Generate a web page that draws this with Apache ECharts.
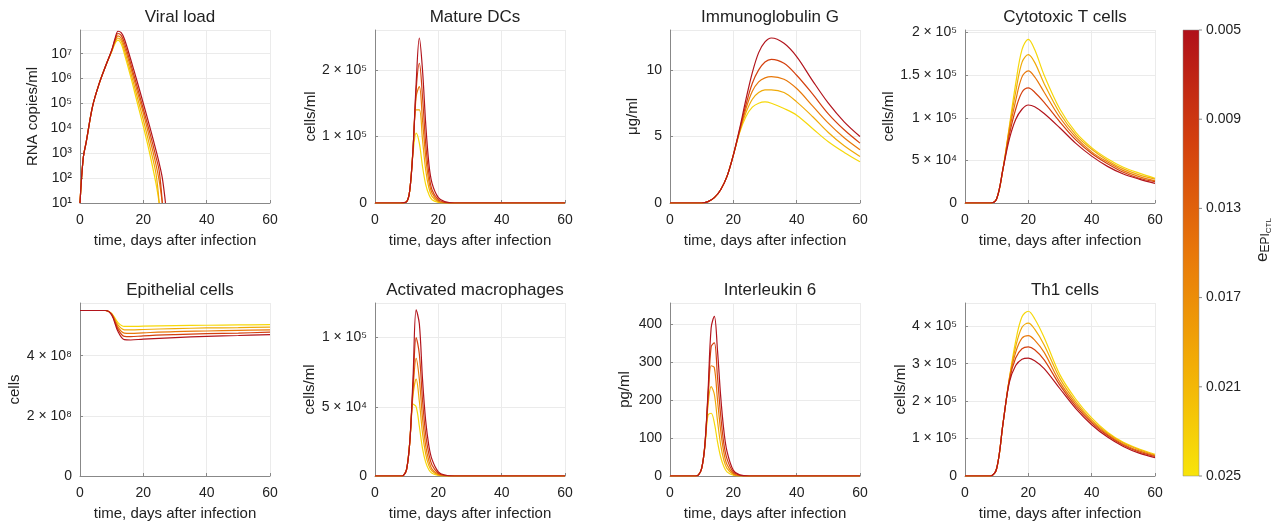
<!DOCTYPE html>
<html>
<head>
<meta charset="utf-8">
<script src="https://cdn.jsdelivr.net/npm/echarts@6/dist/echarts.min.js"></script>
<style>
  html, body { margin: 0; padding: 0; background: #fff; }
  #chart { width: 1280px; height: 527px; }
</style>
</head>
<body>
<div id="chart"></div>
<script>
// curves are ordered from e = 0.025 (yellow) to e = 0.005 (red)
const COLORS = ['#f6d80a', '#f0aa08', '#e8780a', '#d4400e', '#b2141c']
const FONT = "'Liberation Sans', Arial, sans-serif"

const viralDays = [0, 1, 2, 4, 6, 8, 10, 11, 12, 13, 14, 16, 18, 20, 22, 24, 25, 26, 27]
const viral = [
  [10, 600, 3e3, 8e4, 6e5, 3e6, 1.2e7, 2.5e7, 3.5e7, 2.5e7, 1e7, 1.2e6, 1.2e5, 1.2e4, 1e3, 60, 10, null, null],
  [10, 600, 3e3, 8e4, 6e5, 3e6, 1.25e7, 2.8e7, 4.3e7, 3.3e7, 1.4e7, 1.8e6, 2e5, 2.2e4, 2e3, 150, 10, null, null],
  [10, 600, 3e3, 8e4, 6e5, 3e6, 1.3e7, 3.1e7, 5.2e7, 4.2e7, 2e7, 2.8e6, 3.3e5, 4e4, 4e3, 350, 80, 10, null],
  [10, 600, 3e3, 8e4, 6e5, 3e6, 1.35e7, 3.4e7, 6.5e7, 5.5e7, 2.8e7, 4e6, 5e5, 6e4, 7e3, 700, 200, 10, null],
  [10, 600, 3e3, 8e4, 6e5, 3e6, 1.4e7, 3.8e7, 8e7, 7e7, 4e7, 6e6, 8e5, 1e5, 1.2e4, 1.3e3, 400, 100, 10]
]

const dcDays = [0, 8, 10, 11, 12, 13, 14, 15, 16, 17, 18, 20, 22, 25, 60]
const dcs = [
  [0, 0, 2e3, 2e4, 7.5e4, 1.05e5, 9e4, 5.5e4, 2.8e4, 1.3e4, 5e3, 1e3, 0, 0, 0],
  [0, 0, 2e3, 2e4, 8e4, 1.4e5, 1.4e5, 9.5e4, 5e4, 2.3e4, 1e4, 2e3, 0, 0, 0],
  [0, 0, 2e3, 2e4, 8e4, 1.6e5, 1.75e5, 1.25e5, 7e4, 3.3e4, 1.5e4, 3e3, 500, 0, 0],
  [0, 0, 2e3, 2e4, 8e4, 1.7e5, 2.1e5, 1.6e5, 9e4, 4.5e4, 2e4, 5e3, 1e3, 0, 0],
  [0, 0, 2e3, 2e4, 8e4, 1.8e5, 2.48e5, 2.0e5, 1.2e5, 6e4, 3e4, 8e3, 2e3, 0, 0]
]

const iggDays = [0, 10, 12, 14, 16, 18, 20, 22, 24, 26, 28, 30, 32, 36, 40, 45, 50, 55, 60]
const igg = [
  [0, 0, 0.1, 0.4, 1.0, 2.0, 3.6, 5.3, 6.5, 7.2, 7.5, 7.6, 7.5, 7.1, 6.6, 5.6, 4.6, 3.8, 3.1],
  [0, 0, 0.1, 0.4, 1.0, 2.0, 3.6, 5.4, 6.8, 7.8, 8.3, 8.5, 8.5, 8.3, 7.6, 6.5, 5.3, 4.3, 3.5],
  [0, 0, 0.1, 0.4, 1.0, 2.0, 3.6, 5.4, 7.1, 8.4, 9.1, 9.4, 9.5, 9.3, 8.6, 7.3, 6.0, 4.9, 4.0],
  [0, 0, 0.1, 0.4, 1.0, 2.0, 3.6, 5.5, 7.4, 9.0, 10.0, 10.6, 10.8, 10.5, 9.6, 8.2, 6.7, 5.5, 4.5],
  [0, 0, 0.1, 0.4, 1.0, 2.0, 3.6, 5.6, 7.8, 9.8, 11.3, 12.1, 12.4, 12.0, 11.0, 9.2, 7.5, 6.1, 5.0]
]

const tDays = [0, 8, 10, 12, 14, 16, 18, 20, 22, 25, 30, 35, 40, 45, 50, 55, 60]
const ctl = [
  [0, 0, 5e3, 4e4, 9e4, 1.4e5, 1.8e5, 1.92e5, 1.8e5, 1.5e5, 1.1e5, 8.3e4, 6.5e4, 5.2e4, 4.2e4, 3.5e4, 2.9e4],
  [0, 0, 5e3, 4e4, 8.8e4, 1.3e5, 1.65e5, 1.74e5, 1.65e5, 1.4e5, 1.05e5, 8e4, 6.3e4, 5e4, 4e4, 3.3e4, 2.8e4],
  [0, 0, 5e3, 4e4, 8.5e4, 1.2e5, 1.48e5, 1.55e5, 1.48e5, 1.3e5, 1e5, 7.7e4, 6e4, 4.8e4, 3.8e4, 3.1e4, 2.6e4],
  [0, 0, 5e3, 4e4, 8e4, 1.1e5, 1.3e5, 1.35e5, 1.3e5, 1.18e5, 9.5e4, 7.4e4, 5.8e4, 4.6e4, 3.6e4, 2.9e4, 2.5e4],
  [0, 0, 5e3, 4e4, 7.5e4, 9.8e4, 1.1e5, 1.15e5, 1.13e5, 1.05e5, 8.8e4, 7e4, 5.5e4, 4.3e4, 3.4e4, 2.8e4, 2.3e4]
]

const epiDays = [0, 8, 10, 12, 14, 16, 20, 30, 40, 50, 60]
const epi = [
  [5.5e8, 5.5e8, 5.4e8, 5.1e8, 4.97e8, 4.97e8, 4.98e8, 5.0e8, 5.01e8, 5.02e8, 5.03e8],
  [5.5e8, 5.5e8, 5.39e8, 5.02e8, 4.86e8, 4.86e8, 4.87e8, 4.9e8, 4.92e8, 4.93e8, 4.95e8],
  [5.5e8, 5.5e8, 5.38e8, 4.95e8, 4.75e8, 4.74e8, 4.76e8, 4.8e8, 4.82e8, 4.84e8, 4.86e8],
  [5.5e8, 5.5e8, 5.37e8, 4.88e8, 4.64e8, 4.63e8, 4.66e8, 4.7e8, 4.73e8, 4.75e8, 4.78e8],
  [5.5e8, 5.5e8, 5.35e8, 4.8e8, 4.53e8, 4.52e8, 4.55e8, 4.6e8, 4.64e8, 4.67e8, 4.7e8]
]

const peakDays = [0, 8, 9, 10, 11, 12, 13, 14, 15, 16, 17, 18, 20, 22, 25, 60]
const macro = [
  [0, 0, 500, 5e3, 2.5e4, 5.2e4, 5.0e4, 3.6e4, 2e4, 1e4, 4.5e3, 2e3, 400, 0, 0, 0],
  [0, 0, 500, 5e3, 2.5e4, 5.8e4, 7e4, 5.4e4, 3.1e4, 1.6e4, 7.5e3, 3.5e3, 800, 100, 0, 0],
  [0, 0, 500, 5e3, 2.5e4, 6.2e4, 8.5e4, 7e4, 4.2e4, 2.2e4, 1.1e4, 5e3, 1200, 200, 0, 0],
  [0, 0, 500, 5e3, 2.5e4, 6.5e4, 1.0e5, 8.8e4, 5.5e4, 3e4, 1.6e4, 8e3, 2e3, 400, 0, 0],
  [0, 0, 500, 5e3, 2.5e4, 7e4, 1.2e5, 1.1e5, 7e4, 4e4, 2.2e4, 1.2e4, 3e3, 700, 0, 0]
]
const il6 = [
  [0, 0, 3, 20, 75, 160, 165, 140, 90, 50, 25, 11, 2, 0, 0, 0],
  [0, 0, 3, 20, 78, 185, 235, 215, 145, 82, 42, 20, 4, 0, 0, 0],
  [0, 0, 3, 20, 80, 200, 290, 285, 200, 120, 62, 30, 6, 1, 0, 0],
  [0, 0, 3, 20, 80, 210, 340, 350, 260, 160, 85, 45, 10, 2, 0, 0],
  [0, 0, 3, 20, 80, 220, 390, 420, 330, 210, 120, 65, 15, 3, 0, 0]
]

const th1 = [
  [0, 0, 2e4, 1.4e5, 2.6e5, 3.6e5, 4.25e5, 4.4e5, 4.2e5, 3.7e5, 2.7e5, 2.05e5, 1.55e5, 1.17e5, 9e4, 7.2e4, 5.8e4],
  [0, 0, 2e4, 1.4e5, 2.6e5, 3.45e5, 3.97e5, 4.08e5, 3.92e5, 3.5e5, 2.6e5, 1.98e5, 1.5e5, 1.14e5, 8.8e4, 7e4, 5.6e4],
  [0, 0, 2e4, 1.4e5, 2.58e5, 3.3e5, 3.68e5, 3.75e5, 3.63e5, 3.3e5, 2.5e5, 1.92e5, 1.46e5, 1.11e5, 8.5e4, 6.7e4, 5.4e4],
  [0, 0, 2e4, 1.4e5, 2.55e5, 3.15e5, 3.4e5, 3.45e5, 3.37e5, 3.1e5, 2.42e5, 1.86e5, 1.42e5, 1.08e5, 8.2e4, 6.4e4, 5.2e4],
  [0, 0, 2e4, 1.4e5, 2.5e5, 2.95e5, 3.12e5, 3.15e5, 3.08e5, 2.87e5, 2.33e5, 1.8e5, 1.37e5, 1.04e5, 7.9e4, 6.1e4, 4.9e4]
]

const cbTicks = ['0.005', '0.009', '0.013', '0.017', '0.021', '0.025']

const SUP = { '0': '⁰', '1': '¹', '2': '²', '3': '³', '4': '⁴', '5': '⁵', '6': '⁶', '7': '⁷', '8': '⁸', '9': '⁹' }
const sup = n => String(n).split('').map(c => SUP[c]).join('')
function sci(v) {
  if (v === 0) return '0'
  const e = Math.floor(Math.log10(v) + 1e-9)
  const m = +(v / Math.pow(10, e)).toFixed(2)
  return m + ' × 10' + sup(e)
}
const pow10 = v => '10' + sup(Math.round(Math.log10(v)))

const panels = [
  { title: 'Viral load', days: viralDays, data: viral, name: 'RNA copies/ml', gap: 40, log: true, min: 10, max: 9e7, fmt: pow10 },
  { title: 'Mature DCs', days: dcDays, data: dcs, name: 'cells/ml', gap: 54, max: 2.6e5, interval: 1e5, fmt: sci },
  { title: 'Immunoglobulin G', days: iggDays, data: igg, name: 'μg/ml', gap: 30, max: 13, interval: 5 },
  { title: 'Cytotoxic T cells', days: tDays, data: ctl, name: 'cells/ml', gap: 66, max: 2.03e5, interval: 5e4, fmt: sci },
  { title: 'Epithelial cells', days: epiDays, data: epi, name: 'cells', gap: 58, max: 5.75e8, interval: 2e8, fmt: sci },
  { title: 'Activated macrophages', days: peakDays, data: macro, name: 'cells/ml', gap: 54, max: 1.25e5, interval: 5e4, fmt: sci },
  { title: 'Interleukin 6', days: peakDays, data: il6, name: 'pg/ml', gap: 38, max: 455, interval: 100 },
  { title: 'Th1 cells', days: tDays, data: th1, name: 'cells/ml', gap: 54, max: 4.62e5, interval: 1e5, fmt: sci }
]

const lefts = [80, 375, 670, 965]
const tops = [30, 303]
const W = 190, H = 173

const grid = [], xAxis = [], yAxis = [], series = [], title = []
panels.forEach((p, i) => {
  const left = lefts[i % 4], top = tops[Math.floor(i / 4)]
  grid.push({ left, top, width: W, height: H })
  title.push({
    text: p.title, left: left + W / 2, top: top - 26, textAlign: 'center',
    textStyle: { fontFamily: FONT, fontSize: 17, fontWeight: 'normal', color: '#222' }
  })
  xAxis.push({
    gridIndex: i, type: 'value', min: 0, max: 60, interval: 20,
    name: 'time, days after infection', nameLocation: 'middle', nameGap: 30,
    nameTextStyle: { fontFamily: FONT, fontSize: 15, color: '#222' },
    axisLine: { lineStyle: { color: '#888' } },
    axisTick: { show: true, inside: true, length: 3, lineStyle: { color: '#888' } },
    axisLabel: { fontFamily: FONT, fontSize: 14, color: '#222', margin: 10 },
    splitLine: { lineStyle: { color: '#ebebeb' } }
  })
  yAxis.push({
    gridIndex: i, type: p.log ? 'log' : 'value', logBase: 10,
    min: p.log ? p.min : 0, max: p.max, interval: p.interval,
    name: p.name, nameLocation: 'middle', nameGap: p.gap,
    nameTextStyle: { fontFamily: FONT, fontSize: 15, color: '#222' },
    axisLine: { show: true, lineStyle: { color: '#888' } },
    axisTick: { show: true, inside: true, length: 3, lineStyle: { color: '#888' } },
    axisLabel: {
      fontFamily: FONT, fontSize: 14, color: '#222', margin: 8, showMaxLabel: false,
      formatter: p.fmt ? (v => p.fmt(v)) : (v => String(v))
    },
    splitLine: { lineStyle: { color: '#ebebeb' } }
  })
  p.data.forEach((vals, k) => {
    series.push({
      type: 'line', xAxisIndex: i, yAxisIndex: i, showSymbol: false, silent: true,
      smooth: 0.35, connectNulls: false,
      lineStyle: { width: 1.2, color: COLORS[k] },
      data: p.days.map((d, j) => [d, vals[j]])
    })
  })
})

// colour bar
const cbX = 1183, cbTop = 30, cbH = 446
const graphic = [{
  type: 'rect', shape: { x: cbX, y: cbTop, width: 16, height: cbH },
  style: {
    fill: new echarts.graphic.LinearGradient(0, 0, 0, 1, [
      { offset: 0, color: '#b0101a' }, { offset: 0.25, color: '#d3400e' },
      { offset: 0.5, color: '#e8780a' }, { offset: 0.75, color: '#f2ad06' },
      { offset: 1, color: '#f8e40a' }
    ]),
    stroke: '#888', lineWidth: 0.5
  }
}]
cbTicks.forEach((t, k) => {
  const y = cbTop + cbH * k / (cbTicks.length - 1)
  graphic.push({ type: 'line', shape: { x1: cbX + 16, y1: y, x2: cbX + 19, y2: y }, style: { stroke: '#888' } })
  graphic.push({
    type: 'text', x: cbX + 23, y: y, style: {
      text: t, fontFamily: FONT, fontSize: 14, fill: '#222', verticalAlign: 'middle'
    }
  })
})
graphic.push({
  type: 'text', x: 1262, y: 240, rotation: Math.PI / 2,
  style: {
    text: '{e|e}{s|EPI}{ss|CTL}', align: 'center', verticalAlign: 'middle',
    rich: {
      e: { fontFamily: FONT, fontSize: 17, fill: '#222' },
      s: { fontFamily: FONT, fontSize: 12, fill: '#222', padding: [8, 0, 0, 0] },
      ss: { fontFamily: FONT, fontSize: 8, fill: '#222', padding: [14, 0, 0, 0] }
    }
  }
})

const chart = echarts.init(document.getElementById('chart'))
chart.setOption({ animation: false, title, grid, xAxis, yAxis, series, graphic })
</script>
</body>
</html>
